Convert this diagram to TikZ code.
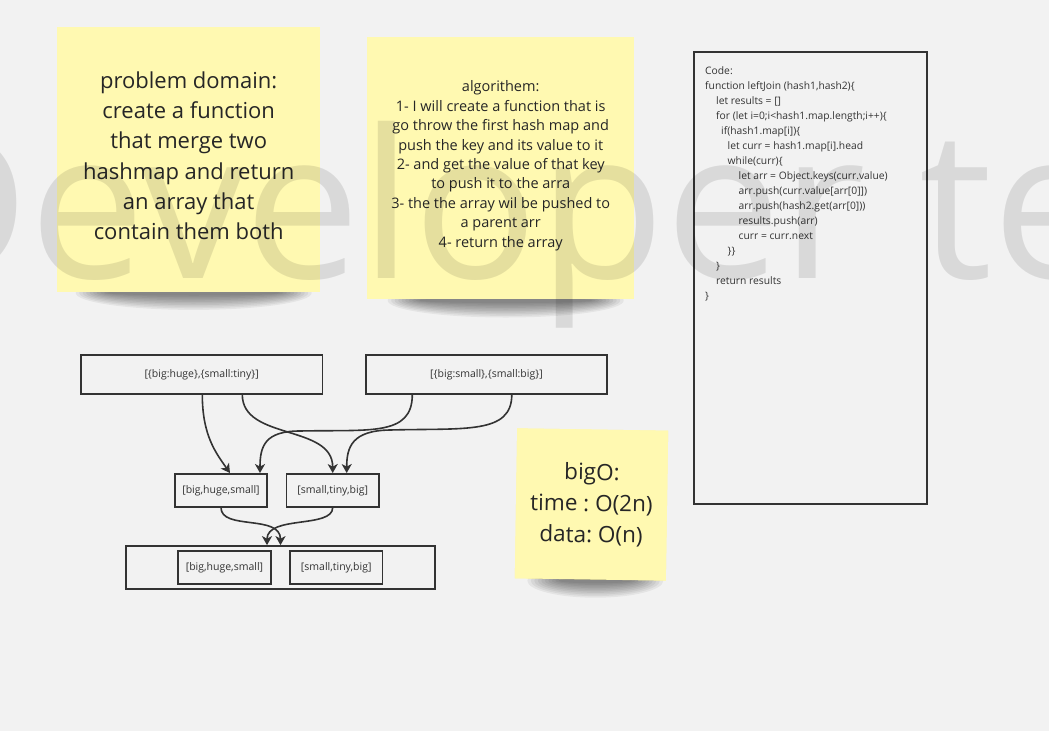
\documentclass[tikz,border=0pt]{standalone}
\usepackage{fontspec}
\setmainfont{Open Sans}
\usetikzlibrary{arrows.meta,positioning}
\definecolor{paper}{HTML}{F2F2F2}
\definecolor{sticky}{HTML}{FFF9B1}
\definecolor{ink}{HTML}{333333}
\frenchspacing

\begin{document}
\begin{tikzpicture}[x=1pt,y=-1pt,
note/.style={fill=sticky,inner sep=0pt},
notetext/.style={align=center,text=black!85,inner sep=0pt},
cell/.style={draw=ink,line width=1.8pt,inner sep=0pt,text=ink,font=\fontsize{10.5}{13}\selectfont},
link/.style={draw=ink,line width=1.6pt,-{Stealth[length=9pt,width=10pt,inset=2.5pt]}}]
\useasboundingbox (0,0) rectangle (1049,731);
\fill[paper] (0,0) rectangle (1049,731);

\node[note,minimum width=262.7pt,minimum height=264.4pt] (problem) at (188.7,159.5) {};
\node[note,minimum width=266.7pt,minimum height=262pt] (algo) at (500.7,168.3) {};
\node[note,minimum width=151pt,minimum height=150pt,rotate=-0.9] (bigo) at (591.5,504.5) {};
\foreach \n/\w in {problem/118,algo/118,bigo/68}
  \foreach \k in {0,...,9}
    \fill[black,opacity=0.055] ([xshift=5pt,yshift=-1pt]\n.south) ellipse ({(\w-3.5*\k)*1pt} and {(17-1.6*\k)*1pt});
\node[note,minimum width=262.7pt,minimum height=264.4pt] at (problem) {};
\node[note,minimum width=266.7pt,minimum height=262pt] at (algo) {};
\node[note,minimum width=151pt,minimum height=150pt,rotate=-0.9] at (bigo) {};

\node[notetext,font=\fontsize{22}{30.3}\selectfont] (problemtxt) at ([yshift=3.7pt]problem.center)
  {problem domain:\\create a function\\that merge two\\hashmap and return\\an array that\\contain them both};
\node[notetext,font=\fontsize{14.5}{19.45}\selectfont] (algotxt) at ([yshift=2.6pt]algo.center)
  {algorithem:\\1- I will create a function that is\\go throw the first hash map and\\push the key and its value to it\\2- and get the value of that key\\to push it to the arra\\3- the the array wil be pushed to\\a parent arr\\4- return the array};
\node[notetext,font=\fontsize{22.5}{31.2}\selectfont,rotate=-0.9] (bigotxt) at (bigo.center)
  {bigO:\\time : O(2n)\\data: O(n)};

\node[draw=ink,line width=1.8pt,minimum width=233pt,minimum height=452pt,inner sep=0pt,anchor=north west] (code) at (693,51) {};
\node[anchor=north west,align=left,inner sep=0pt,text=ink,font=\fontsize{10.3}{15}\selectfont] (codetxt) at (705,66.5)
  {Code:\\
  function leftJoin (hash1,hash2)\{\\
  \hspace*{11pt}let results = []\\
  \hspace*{11pt}for (let i=0;i<hash1.map.length;i++)\{\\
  \hspace*{16pt}if(hash1.map[i])\{\\
  \hspace*{22.5pt}let curr = hash1.map[i].head\\
  \hspace*{22.5pt}while(curr)\{\\
  \hspace*{33.5pt}let arr = Object.keys(curr.value)\\
  \hspace*{33.5pt}arr.push(curr.value[arr[0]])\\
  \hspace*{33.5pt}arr.push(hash2.get(arr[0]))\\
  \hspace*{33.5pt}results.push(arr)\\
  \hspace*{33.5pt}curr = curr.next\\
  \hspace*{22.5pt}\}\}\\
  \hspace*{11pt}\}\\
  \hspace*{11pt}return results\\
  \}};

\node[cell,minimum width=241.5pt,minimum height=38.7pt] (hashA) at (201.7,374.3) {[\{big:huge\},\{small:tiny\}]};
\node[cell,minimum width=241pt,minimum height=38.7pt] (hashB) at (486.5,374.3) {[\{big:small\},\{small:big\}]};
\node[cell,minimum width=92.6pt,minimum height=32.7pt] (pairA) at (221,490.3) {[big,huge,small]};
\node[cell,minimum width=92.6pt,minimum height=32.7pt,right=17.3pt of pairA] (pairB) {[small,tiny,big]};
\node[cell,minimum width=309pt,minimum height=43.3pt] (result) at (280.5,567.7) {};
\node[cell,minimum width=92.4pt,minimum height=33.3pt] (resA) at (224.5,567.7) {[big,huge,small]};
\node[cell,minimum width=92.4pt,minimum height=33.3pt,right=17.5pt of resA] (resB) {[small,tiny,big]};

\draw[link] ([xshift=0.6pt]hashA.south) .. controls +(0,41) and +(-14,-20) .. ([xshift=9pt]pairA.north);
\draw[link] ([xshift=40.6pt]hashA.south) .. controls +(0,46) and +(0,-49) .. (pairB.north);
\draw[link] ([xshift=-74.2pt]hashB.south) .. controls +(0,42) and +(70,-1.5) .. (300,431)
  .. controls +(-35,0) and +(0,-27) .. ([xshift=39pt]pairA.north);
\draw[link] ([xshift=25.3pt]hashB.south) .. controls +(0,40) and +(75,-2) .. (390,430)
  .. controls +(-38,0.5) and +(0,-26) .. ([xshift=14pt]pairB.north);
\draw[link] (pairA.south) .. controls +(0,23) and +(0,-31) .. (result.north);
\draw[link] (pairB.south) .. controls +(0,21) and +(0,-30) .. ([xshift=-13.5pt]result.north);

\node[anchor=base west,inner sep=0pt,opacity=0.1,text=black,font=\fontsize{207}{207}\selectfont] (mark) at (-122,278) {Developer te};
\end{tikzpicture}
\end{document}
